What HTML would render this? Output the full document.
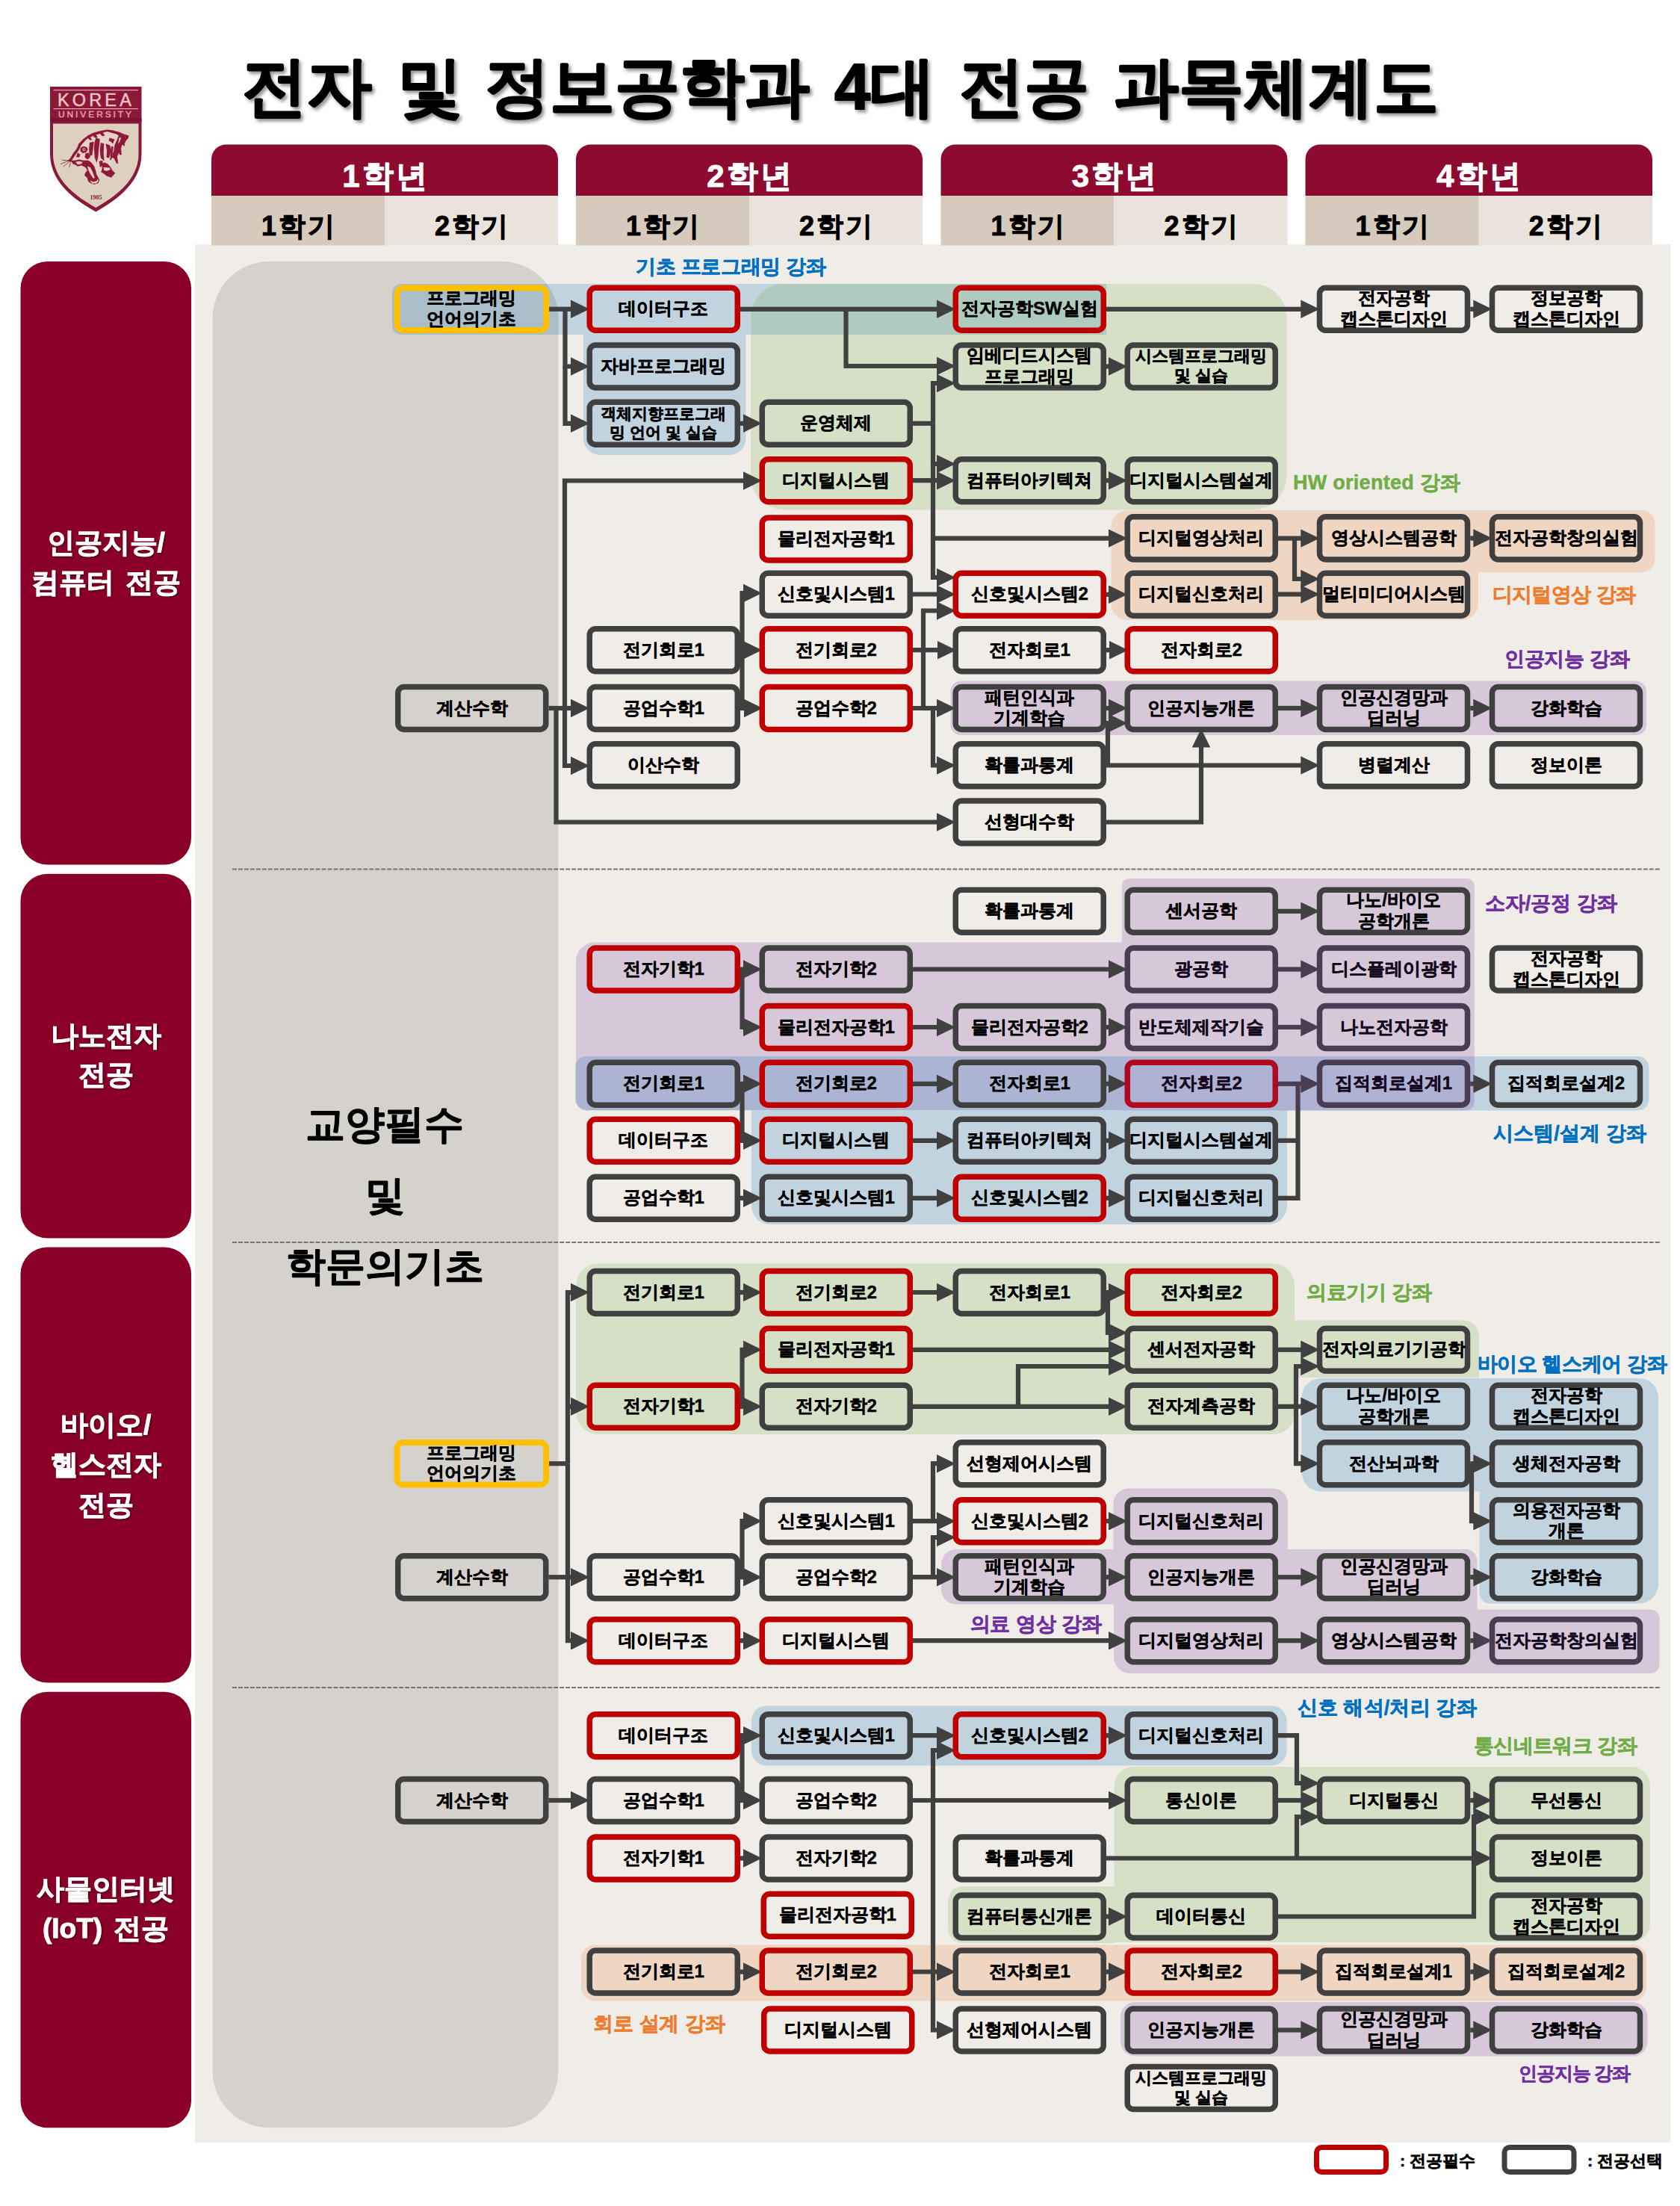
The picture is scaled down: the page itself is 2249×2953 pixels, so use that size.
<!DOCTYPE html>
<html lang="ko"><head><meta charset="utf-8"><title>전자 및 정보공학과 4대 전공 과목체계도</title>
<style>
html,body{margin:0;padding:0;background:#fff;}
body{width:2249px;height:2953px;overflow:hidden;font-family:"Liberation Sans", sans-serif;}
svg{display:block;font-family:"Liberation Sans", sans-serif;}
.bt{font-size:24px;font-weight:bold;text-anchor:middle;fill:#000;stroke:#000;stroke-width:0.45px;stroke-linejoin:round;}
</style></head><body>
<svg width="2249" height="2953" viewBox="0 0 2249 2953">
<rect width="100%" height="100%" fill="#fff"/>
<defs><filter id="ts" x="-5%" y="-20%" width="110%" height="150%"><feDropShadow dx="3" dy="3.5" stdDeviation="2.2" flood-color="#000" flood-opacity="0.42"/></filter><filter id="ws" x="-10%" y="-30%" width="120%" height="170%"><feDropShadow dx="1.5" dy="1.5" stdDeviation="1.5" flood-color="#000" flood-opacity="0.45"/></filter></defs>
<g id="logo">
<path d="M67,116 H189.5 V206 C189.5,246 152,270 128.3,283.5 C104,270 67,246 67,206 Z" fill="#8A1836"/>
<path d="M71,165.5 H185.5 V206 C185.5,243 150,265.5 128.3,278 C106,265.5 71,243 71,206 Z" fill="#DDD0BF"/>
<rect x="71.5" y="120" width="113.5" height="1.2" fill="#E9A9AE"/><rect x="71.5" y="145" width="113.5" height="1.2" fill="#E9A9AE"/>
<rect x="67" y="158" width="122.5" height="5" fill="#7A1230"/>
<text x="128.5" y="141.6" font-size="23.5" text-anchor="middle" fill="#F2C6C6" stroke="#F2C6C6" stroke-width="0.5" letter-spacing="4.2" textLength="103" lengthAdjust="spacingAndGlyphs">KOREA</text>
<text x="128.5" y="157" font-size="10.5" text-anchor="middle" fill="#EBAAB0" stroke="#EBAAB0" stroke-width="0.3" letter-spacing="2.6" textLength="101" lengthAdjust="spacingAndGlyphs">UNIVERSITY</text>
<polygon points="117.6,181.4 124.8,178.1 133.9,175.5 143.1,173.5 159.5,176.8 172.6,181.4 166.7,192.5 162.1,199.1 162.8,206.9 158.2,218.7 152.9,212.2 148.3,214.8 150.3,227.9 154.2,231.8 149.0,237.7 143.1,235.7 135.2,230.5 132.6,241.0 131.3,244.9 126.7,246.9 122.2,245.6 118.2,242.9 116.9,238.3 113.0,234.4 114.3,223.9 103.8,222.6 97.9,219.4 90.7,215.4 94.0,212.2 97.9,205.6 103.2,199.1 105.8,192.5 111.7,186.6" fill="#E8D0C6"/>
<polygon points="143.1,173.5 150.3,174.2 159.5,176.8 166.7,179.7 172.6,181.4 171.3,186.0 169.3,187.3 166.7,192.5 167.3,195.8 163.4,193.8 162.1,199.1 162.8,206.9 160.1,207.6 159.5,204.3 156.9,209.5 158.2,218.7 155.9,218.7 152.9,212.2 150.3,210.8 148.3,214.8 147.0,213.5 152.3,201.7 153.6,193.8 156.9,186.6 158.8,181.4 155.6,179.4 148.3,177.4 143.1,176.1" fill="#8E1A37"/>
<polygon points="116.9,181.7 124.8,177.8 133.9,175.2 143.1,173.4 143.1,176.3 137.9,177.4 140.5,181.4 136.6,182.2 133.9,179.1 128.7,180.4 130.7,184.0 126.7,184.6 124.8,181.7 120.8,184.0 123.5,187.3 120.2,187.6 117.6,184.6" fill="#8E1A37"/>
<polygon points="117.6,181.4 120.2,182.7 114.3,187.9 109.1,193.8 105.8,200.4 101.2,206.9 97.3,212.8 94.6,216.7 90.1,215.8 94.0,211.8 97.9,205.3 102.8,198.7 105.5,192.2 111.3,186.3" fill="#8E1A37"/>
<polygon points="128.4,184.3 133.6,186.3 133.3,191.2 132.0,201.7 131.3,210.8 129.4,218.0 126.7,210.8 125.8,197.7 126.7,189.9" fill="#8E1A37"/>
<polygon points="134.9,190.9 139.2,192.2 138.7,204.3 139.5,215.4 134.9,211.5 133.6,201.7" fill="#8E1A37"/>
<polygon points="141.5,192.2 147.4,194.8 148.3,201.7 146.1,211.5 142.5,210.8 143.1,201.7" fill="#8E1A37"/>
<polygon points="119.9,190.9 125.8,189.4 124.8,197.7 123.5,207.6 119.5,209.2 119.2,199.1" fill="#8E1A37"/>
<polygon points="114.3,205.6 118.2,204.3 120.8,210.8 116.9,213.5 113.6,210.8" fill="#8E1A37"/>
<polygon points="103.8,204.3 107.7,206.9 105.8,210.8 101.9,210.2" fill="#8E1A37"/>
<polygon points="149.0,195.8 151.9,196.4 150.3,206.9 147.7,212.2 147.4,204.3" fill="#8E1A37"/>
<polygon points="146.4,184.6 153.6,186.6 151.0,192.5 149.0,189.9 145.7,188.6" fill="#8E1A37"/>
<polygon points="107.7,197.7 111.7,195.8 116.3,197.1 117.6,200.4 114.9,204.3 110.4,204.9 107.7,202.3" fill="#8E1A37"/>
<polygon points="94.0,214.8 99.9,214.8 105.8,213.5 111.7,214.8 118.2,214.8 122.2,217.4 126.1,222.6 128.0,227.9 129.4,233.8 131.3,237.0 133.3,241.0 131.6,245.0 126.7,247.0 122.2,245.7 118.2,243.1 116.9,238.5 113.0,234.5 114.3,231.1 116.9,227.9 114.3,223.9 109.1,221.5 103.8,222.8 101.2,220.8 97.9,219.5" fill="#8E1A37"/>
<polygon points="136.6,218.7 140.5,217.4 144.4,219.4 148.3,223.9 150.3,227.9 154.2,231.8 149.0,237.7 143.1,235.7 137.9,231.8 135.2,230.5 136.6,225.9" fill="#8E1A37"/>
<polygon points="132.6,216.1 137.2,214.8 137.9,221.3 133.9,223.9" fill="#8E1A37"/>
<polygon points="110.4,199.1 112.7,198.1 114.6,199.4 113.6,201.7 111.0,202.0" fill="#E8D0C6"/>
<polygon points="116.9,222.6 120.8,223.9 123.6,229.2 125.6,234.4 126.9,238.3 124.9,239.0 121.0,233.1 118.4,227.9" fill="#E8D0C6"/>
<polygon points="120.2,241.5 124.8,243.5 129.4,242.3 131.2,239.3 131.8,242.4 128.7,245.4 123.6,245.8" fill="#E8D0C6"/>
<polygon points="138.5,223.9 147.0,224.6 147.7,227.2 143.1,228.7 139.2,228.0" fill="#E8D0C6"/>
<polygon points="101.2,216.7 105.8,215.8 110.4,216.7 109.1,219.4 103.8,220.3" fill="#E8D0C6"/>
<polygon points="159.5,184.6 162.1,184.0 160.1,189.9 158.2,192.5" fill="#E8D0C6"/>
<polygon points="111.3,199.4 113.3,199.1 113.5,200.9 111.7,201.1" fill="#8E1A37"/>
<path d="M91.4,215.4 L80.9,219.7 M92.0,214.8 L83.2,214.4 M92.7,216.7 L84.8,223.0 M94.6,217.4 L92.4,224.3" stroke="#8E1A37" stroke-width="0.8" fill="none"/>
<text x="128.5" y="266.5" font-size="8" text-anchor="middle" fill="#8A1836" font-family="'Liberation Serif', serif" font-weight="bold">1905</text>
</g>
<g filter="url(#ts)" font-size="86.5" font-weight="bold" fill="#000" stroke="#000" stroke-width="2" stroke-linejoin="round">
<text x="324" y="146">전자</text>
<text x="532" y="146">및</text>
<text x="648.5" y="146">정보공학과</text>
<text x="1117" y="146">4대</text>
<text x="1283.5" y="146">전공</text>
<text x="1491" y="146">과목체계도</text>
</g>
<rect x="261" y="327.2" width="1975.5" height="2541.1" fill="#F0EDE8"/>
<path d="M283,262 V213 A19.5,19.5 0 0 1 302.5,193.5 H727.5 A19.5,19.5 0 0 1 747,213 V262 Z" fill="#8D0A30"/>
<rect x="283" y="262" width="232.0" height="66.5" fill="#D6CABC"/><rect x="515.0" y="262" width="232.0" height="66.5" fill="#E9E3DC"/>
<text x="516.5" y="249.5" font-size="42" font-weight="bold" fill="#fff" stroke="#fff" stroke-width="0.9" text-anchor="middle" letter-spacing="3">1학년</text>
<text x="400.5" y="314.5" font-size="36" font-weight="bold" fill="#000" stroke="#000" stroke-width="0.9" text-anchor="middle" letter-spacing="3">1학기</text>
<text x="632.5" y="314.5" font-size="36" font-weight="bold" fill="#000" stroke="#000" stroke-width="0.9" text-anchor="middle" letter-spacing="3">2학기</text>
<path d="M771,262 V213 A19.5,19.5 0 0 1 790.5,193.5 H1215.5 A19.5,19.5 0 0 1 1235,213 V262 Z" fill="#8D0A30"/>
<rect x="771" y="262" width="232.0" height="66.5" fill="#D6CABC"/><rect x="1003.0" y="262" width="232.0" height="66.5" fill="#E9E3DC"/>
<text x="1004.5" y="249.5" font-size="42" font-weight="bold" fill="#fff" stroke="#fff" stroke-width="0.9" text-anchor="middle" letter-spacing="3">2학년</text>
<text x="888.5" y="314.5" font-size="36" font-weight="bold" fill="#000" stroke="#000" stroke-width="0.9" text-anchor="middle" letter-spacing="3">1학기</text>
<text x="1120.5" y="314.5" font-size="36" font-weight="bold" fill="#000" stroke="#000" stroke-width="0.9" text-anchor="middle" letter-spacing="3">2학기</text>
<path d="M1259.5,262 V213 A19.5,19.5 0 0 1 1279.0,193.5 H1704.0 A19.5,19.5 0 0 1 1723.5,213 V262 Z" fill="#8D0A30"/>
<rect x="1259.5" y="262" width="232.0" height="66.5" fill="#D6CABC"/><rect x="1491.5" y="262" width="232.0" height="66.5" fill="#E9E3DC"/>
<text x="1493.0" y="249.5" font-size="42" font-weight="bold" fill="#fff" stroke="#fff" stroke-width="0.9" text-anchor="middle" letter-spacing="3">3학년</text>
<text x="1377.0" y="314.5" font-size="36" font-weight="bold" fill="#000" stroke="#000" stroke-width="0.9" text-anchor="middle" letter-spacing="3">1학기</text>
<text x="1609.0" y="314.5" font-size="36" font-weight="bold" fill="#000" stroke="#000" stroke-width="0.9" text-anchor="middle" letter-spacing="3">2학기</text>
<path d="M1747.5,262 V213 A19.5,19.5 0 0 1 1767.0,193.5 H2192.5 A19.5,19.5 0 0 1 2212,213 V262 Z" fill="#8D0A30"/>
<rect x="1747.5" y="262" width="232.25" height="66.5" fill="#D6CABC"/><rect x="1979.75" y="262" width="232.25" height="66.5" fill="#E9E3DC"/>
<text x="1981.25" y="249.5" font-size="42" font-weight="bold" fill="#fff" stroke="#fff" stroke-width="0.9" text-anchor="middle" letter-spacing="3">4학년</text>
<text x="1865.125" y="314.5" font-size="36" font-weight="bold" fill="#000" stroke="#000" stroke-width="0.9" text-anchor="middle" letter-spacing="3">1학기</text>
<text x="2097.375" y="314.5" font-size="36" font-weight="bold" fill="#000" stroke="#000" stroke-width="0.9" text-anchor="middle" letter-spacing="3">2학기</text>
<rect x="27.5" y="350" width="228.5" height="807.6" rx="36" fill="#8B0029"/>
<text x="141.7" y="739.4" font-size="37" font-weight="bold" fill="#fff" stroke="#fff" stroke-width="0.9" text-anchor="middle" word-spacing="5" filter="url(#ws)">인공지능/</text>
<text x="141.7" y="791.9" font-size="37" font-weight="bold" fill="#fff" stroke="#fff" stroke-width="0.9" text-anchor="middle" word-spacing="5" filter="url(#ws)">컴퓨터 전공</text>
<rect x="27.5" y="1169.8" width="228.5" height="487.8" rx="36" fill="#8B0029"/>
<text x="141.7" y="1398.7" font-size="37" font-weight="bold" fill="#fff" stroke="#fff" stroke-width="0.9" text-anchor="middle" word-spacing="5" filter="url(#ws)">나노전자</text>
<text x="141.7" y="1450.9" font-size="37" font-weight="bold" fill="#fff" stroke="#fff" stroke-width="0.9" text-anchor="middle" word-spacing="5" filter="url(#ws)">전공</text>
<rect x="27.5" y="1669.5" width="228.5" height="582.9" rx="36" fill="#8B0029"/>
<text x="141.7" y="1919.5" font-size="37" font-weight="bold" fill="#fff" stroke="#fff" stroke-width="0.9" text-anchor="middle" word-spacing="5" filter="url(#ws)">바이오/</text>
<text x="141.7" y="1972.9" font-size="37" font-weight="bold" fill="#fff" stroke="#fff" stroke-width="0.9" text-anchor="middle" word-spacing="5" filter="url(#ws)">헬스전자</text>
<text x="141.7" y="2026.9" font-size="37" font-weight="bold" fill="#fff" stroke="#fff" stroke-width="0.9" text-anchor="middle" word-spacing="5" filter="url(#ws)">전공</text>
<rect x="27.5" y="2264.8" width="228.5" height="583.5" rx="36" fill="#8B0029"/>
<text x="141.7" y="2540.9" font-size="37" font-weight="bold" fill="#fff" stroke="#fff" stroke-width="0.9" text-anchor="middle" word-spacing="5" filter="url(#ws)">사물인터넷</text>
<text x="141.7" y="2593.6" font-size="37" font-weight="bold" fill="#fff" stroke="#fff" stroke-width="0.9" text-anchor="middle" word-spacing="5" filter="url(#ws)">(IoT) 전공</text>
<rect x="284.5" y="350" width="463" height="2498.3" rx="76" fill="#D5D2CD"/>
<path d="M537,380 H1481 V448 H537 A12,12 0 0 1 525,436 V392 A12,12 0 0 1 537,380 Z" fill="#0070C0" fill-opacity="0.2"/>
<path d="M781,448 H998.5 V587 A22,22 0 0 1 976.5,609 H803 A22,22 0 0 1 781,587 V448 Z" fill="#0070C0" fill-opacity="0.2"/>
<path d="M1050,380 H1677.5 A45,45 0 0 1 1722.5,425 V637.5 A45,45 0 0 1 1677.5,682.5 H1050 A45,45 0 0 1 1005,637.5 V425 A45,45 0 0 1 1050,380 Z" fill="#70AD47" fill-opacity="0.2"/>
<path d="M1509.5,683 H1979 V808 A22,22 0 0 1 1957,830 H1509.5 A22,22 0 0 1 1487.5,808 V705 A22,22 0 0 1 1509.5,683 Z" fill="#ED7D31" fill-opacity="0.2"/>
<path d="M1979,683 H2197.5 A18,18 0 0 1 2215.5,701 V748 A18,18 0 0 1 2197.5,766 H1979 V683 Z" fill="#ED7D31" fill-opacity="0.2"/>
<path d="M1286.5,911.5 H2190 A14,14 0 0 1 2204,925.5 V970 A14,14 0 0 1 2190,984 H1286.5 A14,14 0 0 1 1272.5,970 V925.5 A14,14 0 0 1 1286.5,911.5 Z" fill="#7030A0" fill-opacity="0.2"/>
<path d="M1511.7,1176 H1963.8 A10,10 0 0 1 1973.8,1186 V1256 H1501.7 V1186 A10,10 0 0 1 1511.7,1176 Z" fill="#7030A0" fill-opacity="0.2"/>
<path d="M796,1261.5 H1501.7 V1486 H786 A15,15 0 0 1 771,1471 V1286.5 A25,25 0 0 1 796,1261.5 Z" fill="#7030A0" fill-opacity="0.2"/>
<path d="M785,1414 H2192.5 A15,15 0 0 1 2207.5,1429 V1471.5 A15,15 0 0 1 2192.5,1486.5 H785 A15,15 0 0 1 770,1471.5 V1429 A15,15 0 0 1 785,1414 Z" fill="#0070C0" fill-opacity="0.2"/>
<path d="M1006,1486.5 H1723 V1614 A25,25 0 0 1 1698,1639 H1031 A25,25 0 0 1 1006,1614 V1486.5 Z" fill="#0070C0" fill-opacity="0.2"/>
<path d="M801,1691.5 H1705 A28,28 0 0 1 1733,1719.5 V1892 A28,28 0 0 1 1705,1920 H801 A30,30 0 0 1 771,1890 V1721.5 A30,30 0 0 1 801,1691.5 Z" fill="#70AD47" fill-opacity="0.2"/>
<path d="M1733,1767.5 H1960 A20,20 0 0 1 1980,1787.5 V1844 H1733 V1767.5 Z" fill="#70AD47" fill-opacity="0.2"/>
<path d="M1768.5,1845 H1980.5 V1996.5 H1768.5 A26,26 0 0 1 1742.5,1970.5 V1871 A26,26 0 0 1 1768.5,1845 Z" fill="#0070C0" fill-opacity="0.2"/>
<path d="M1980.5,1845 H2194 A26,26 0 0 1 2220,1871 V2120.5 A26,26 0 0 1 2194,2146.5 H1994.5 A14,14 0 0 1 1980.5,2132.5 V1845 Z" fill="#0070C0" fill-opacity="0.2"/>
<path d="M1510.5,1992.5 H1704 A20,20 0 0 1 1724,2012.5 V2074 H1490.5 V2012.5 A20,20 0 0 1 1510.5,1992.5 Z" fill="#7030A0" fill-opacity="0.2"/>
<path d="M1280,2074 H1962.5 A15,15 0 0 1 1977.5,2089 V2147.5 H1280 A20,20 0 0 1 1260,2127.5 V2094 A20,20 0 0 1 1280,2074 Z" fill="#7030A0" fill-opacity="0.2"/>
<path d="M1491,2147.5 H1977.5 V2240 H1513 A22,22 0 0 1 1491,2218 V2147.5 Z" fill="#7030A0" fill-opacity="0.2"/>
<path d="M1026,2283.5 H1702.5 A20,20 0 0 1 1722.5,2303.5 V2343.5 A20,20 0 0 1 1702.5,2363.5 H1026 A20,20 0 0 1 1006,2343.5 V2303.5 A20,20 0 0 1 1026,2283.5 Z" fill="#0070C0" fill-opacity="0.2"/>
<path d="M1516.5,2365 H2184 A25,25 0 0 1 2209,2390 V2575 A25,25 0 0 1 2184,2600 H1491.5 V2390 A25,25 0 0 1 1516.5,2365 Z" fill="#70AD47" fill-opacity="0.2"/>
<path d="M1289,2525 H1491.5 V2601 H1289 A20,20 0 0 1 1269,2581 V2545 A20,20 0 0 1 1289,2525 Z" fill="#70AD47" fill-opacity="0.2"/>
<path d="M796,2603.5 H2186 A18,18 0 0 1 2204,2621.5 V2660.5 A18,18 0 0 1 2186,2678.5 H796 A18,18 0 0 1 778,2660.5 V2621.5 A18,18 0 0 1 796,2603.5 Z" fill="#ED7D31" fill-opacity="0.2"/>
<path d="M1520,2680 H2185.5 A20,20 0 0 1 2205.5,2700 V2732.5 A20,20 0 0 1 2185.5,2752.5 H1520 A20,20 0 0 1 1500,2732.5 V2700 A20,20 0 0 1 1520,2680 Z" fill="#7030A0" fill-opacity="0.2"/>
<line x1="311" y1="1163.5" x2="2222" y2="1163.5" stroke="#767470" stroke-width="2.1" stroke-dasharray="5.9 2.07"/>
<line x1="311" y1="1663" x2="2222" y2="1663" stroke="#767470" stroke-width="2.1" stroke-dasharray="5.9 2.07"/>
<line x1="311" y1="2259" x2="2222" y2="2259" stroke="#767470" stroke-width="2.1" stroke-dasharray="5.9 2.07"/>
<polyline points="734.5,413.8 765.0,413.8" fill="none" stroke="#404040" stroke-width="6.2" stroke-linejoin="miter"/><polygon points="789.2,413.8 764.0,425.9 764.0,401.6" fill="#404040"/>
<polyline points="756.5,413.8 756.5,490.5 765.0,490.5" fill="none" stroke="#404040" stroke-width="6.2" stroke-linejoin="miter"/><polygon points="789.2,490.5 764.0,502.7 764.0,478.3" fill="#404040"/>
<polyline points="756.5,490.5 756.5,566.8 765.0,566.8" fill="none" stroke="#404040" stroke-width="6.2" stroke-linejoin="miter"/><polygon points="789.2,566.8 764.0,579.0 764.0,554.5" fill="#404040"/>
<polyline points="991.0,566.8 996.0,566.8" fill="none" stroke="#404040" stroke-width="6.2" stroke-linejoin="miter"/><polygon points="1020.2,566.8 995.0,579.0 995.0,554.5" fill="#404040"/>
<polyline points="991.0,413.8 1255.0,413.8" fill="none" stroke="#404040" stroke-width="6.2" stroke-linejoin="miter"/><polygon points="1279.2,413.8 1254.0,425.9 1254.0,401.6" fill="#404040"/>
<polyline points="1132.5,413.8 1132.5,490.0 1255.0,490.0" fill="none" stroke="#404040" stroke-width="6.2" stroke-linejoin="miter"/><polygon points="1279.2,490.0 1254.0,502.2 1254.0,477.8" fill="#404040"/>
<polyline points="1222.0,566.8 1249.0,566.8" fill="none" stroke="#404040" stroke-width="6.2" stroke-linejoin="miter"/>
<polyline points="1249.0,566.8 1249.0,513.0 1255.0,513.0" fill="none" stroke="#404040" stroke-width="6.2" stroke-linejoin="miter"/><polygon points="1279.2,513.0 1254.0,525.2 1254.0,500.8" fill="#404040"/>
<polyline points="1249.0,566.8 1249.0,621.0 1255.0,621.0" fill="none" stroke="#404040" stroke-width="6.2" stroke-linejoin="miter"/><polygon points="1279.2,621.0 1254.0,633.2 1254.0,608.8" fill="#404040"/>
<polyline points="1222.0,643.2 1255.0,643.2" fill="none" stroke="#404040" stroke-width="6.2" stroke-linejoin="miter"/><polygon points="1279.2,643.2 1254.0,655.5 1254.0,631.0" fill="#404040"/>
<polyline points="1249.0,621.0 1249.0,720.6 1485.0,720.6" fill="none" stroke="#404040" stroke-width="6.2" stroke-linejoin="miter"/><polygon points="1509.2,720.6 1484.0,732.8 1484.0,708.4" fill="#404040"/>
<polyline points="1249.0,720.0 1249.0,773.0 1255.0,773.0" fill="none" stroke="#404040" stroke-width="6.2" stroke-linejoin="miter"/><polygon points="1279.2,773.0 1254.0,785.2 1254.0,760.8" fill="#404040"/>
<polyline points="734.5,948.0 765.0,948.0" fill="none" stroke="#404040" stroke-width="6.2" stroke-linejoin="miter"/><polygon points="789.2,948.0 764.0,960.2 764.0,935.8" fill="#404040"/>
<polyline points="756.0,948.0 756.0,643.5 996.0,643.5" fill="none" stroke="#404040" stroke-width="6.2" stroke-linejoin="miter"/><polygon points="1020.2,643.5 995.0,655.7 995.0,631.3" fill="#404040"/>
<polyline points="756.0,948.0 756.0,1025.0 765.0,1025.0" fill="none" stroke="#404040" stroke-width="6.2" stroke-linejoin="miter"/><polygon points="789.2,1025.0 764.0,1037.2 764.0,1012.8" fill="#404040"/>
<polyline points="744.5,948.0 744.5,1100.5 1255.0,1100.5" fill="none" stroke="#404040" stroke-width="6.2" stroke-linejoin="miter"/><polygon points="1279.2,1100.5 1254.0,1112.7 1254.0,1088.3" fill="#404040"/>
<polyline points="990.0,870.2 996.0,870.2" fill="none" stroke="#404040" stroke-width="6.2" stroke-linejoin="miter"/><polygon points="1020.2,870.2 995.0,882.5 995.0,858.0" fill="#404040"/>
<polyline points="990.0,948.0 997.0,948.0" fill="none" stroke="#404040" stroke-width="6.2" stroke-linejoin="miter"/><polygon points="1021.2,948.0 996.0,960.2 996.0,935.8" fill="#404040"/>
<polyline points="993.5,948.0 993.5,794.0 996.0,794.0" fill="none" stroke="#404040" stroke-width="6.2" stroke-linejoin="miter"/><polygon points="1020.2,794.0 995.0,806.2 995.0,781.8" fill="#404040"/>
<polyline points="1222.0,795.5 1255.0,795.5" fill="none" stroke="#404040" stroke-width="6.2" stroke-linejoin="miter"/><polygon points="1279.2,795.5 1254.0,807.7 1254.0,783.3" fill="#404040"/>
<polyline points="1222.0,948.0 1236.0,948.0 1236.0,817.5 1255.0,817.5" fill="none" stroke="#404040" stroke-width="6.2" stroke-linejoin="miter"/><polygon points="1279.2,817.5 1254.0,829.7 1254.0,805.3" fill="#404040"/>
<polyline points="1222.0,870.2 1256.0,870.2" fill="none" stroke="#404040" stroke-width="6.2" stroke-linejoin="miter"/><polygon points="1280.2,870.2 1255.0,882.5 1255.0,858.0" fill="#404040"/>
<polyline points="1236.0,948.0 1255.0,948.0" fill="none" stroke="#404040" stroke-width="6.2" stroke-linejoin="miter"/><polygon points="1279.2,948.0 1254.0,960.2 1254.0,935.8" fill="#404040"/>
<polyline points="1249.0,948.0 1249.0,1024.5 1255.0,1024.5" fill="none" stroke="#404040" stroke-width="6.2" stroke-linejoin="miter"/><polygon points="1279.2,1024.5 1254.0,1036.7 1254.0,1012.3" fill="#404040"/>
<polyline points="1481.0,490.5 1485.0,490.5" fill="none" stroke="#404040" stroke-width="6.2" stroke-linejoin="miter"/><polygon points="1509.2,490.5 1484.0,502.7 1484.0,478.3" fill="#404040"/>
<polyline points="1481.0,643.2 1485.0,643.2" fill="none" stroke="#404040" stroke-width="6.2" stroke-linejoin="miter"/><polygon points="1509.2,643.2 1484.0,655.5 1484.0,631.0" fill="#404040"/>
<polyline points="1481.0,795.8 1485.0,795.8" fill="none" stroke="#404040" stroke-width="6.2" stroke-linejoin="miter"/><polygon points="1509.2,795.8 1484.0,808.0 1484.0,783.5" fill="#404040"/>
<polyline points="1481.0,870.2 1486.0,870.2" fill="none" stroke="#404040" stroke-width="6.2" stroke-linejoin="miter"/><polygon points="1510.2,870.2 1485.0,882.5 1485.0,858.0" fill="#404040"/>
<polyline points="1481.0,948.0 1485.0,948.0" fill="none" stroke="#404040" stroke-width="6.2" stroke-linejoin="miter"/><polygon points="1509.2,948.0 1484.0,960.2 1484.0,935.8" fill="#404040"/>
<polyline points="1481.0,1024.5 1742.3,1024.5" fill="none" stroke="#404040" stroke-width="6.2" stroke-linejoin="miter"/><polygon points="1766.5,1024.5 1741.3,1036.7 1741.3,1012.3" fill="#404040"/>
<polyline points="1483.0,1024.5 1483.0,968.0 1485.0,968.0" fill="none" stroke="#404040" stroke-width="6.2" stroke-linejoin="miter"/><polygon points="1509.2,968.0 1484.0,980.2 1484.0,955.8" fill="#404040"/>
<polyline points="1481.0,1100.5 1608.0,1100.5 1608.0,999.5" fill="none" stroke="#404040" stroke-width="6.2" stroke-linejoin="miter"/><polygon points="1608.0,975.2 1620.2,1000.5 1595.8,1000.5" fill="#404040"/>
<polyline points="1481.0,413.8 1742.3,413.8" fill="none" stroke="#404040" stroke-width="6.2" stroke-linejoin="miter"/><polygon points="1766.5,413.8 1741.3,425.9 1741.3,401.6" fill="#404040"/>
<polyline points="1968.2,413.8 1973.3,413.8" fill="none" stroke="#404040" stroke-width="6.2" stroke-linejoin="miter"/><polygon points="1997.5,413.8 1972.3,425.9 1972.3,401.6" fill="#404040"/>
<polyline points="1711.0,720.6 1742.3,720.6" fill="none" stroke="#404040" stroke-width="6.2" stroke-linejoin="miter"/><polygon points="1766.5,720.6 1741.3,732.8 1741.3,708.4" fill="#404040"/>
<polyline points="1733.0,720.6 1733.0,775.0 1742.3,775.0" fill="none" stroke="#404040" stroke-width="6.2" stroke-linejoin="miter"/><polygon points="1766.5,775.0 1741.3,787.2 1741.3,762.8" fill="#404040"/>
<polyline points="1711.0,795.5 1742.3,795.5" fill="none" stroke="#404040" stroke-width="6.2" stroke-linejoin="miter"/><polygon points="1766.5,795.5 1741.3,807.7 1741.3,783.3" fill="#404040"/>
<polyline points="1968.2,720.5 1973.3,720.5" fill="none" stroke="#404040" stroke-width="6.2" stroke-linejoin="miter"/><polygon points="1997.5,720.5 1972.3,732.7 1972.3,708.3" fill="#404040"/>
<polyline points="1711.0,948.0 1742.3,948.0" fill="none" stroke="#404040" stroke-width="6.2" stroke-linejoin="miter"/><polygon points="1766.5,948.0 1741.3,960.2 1741.3,935.8" fill="#404040"/>
<polyline points="1968.2,948.0 1973.3,948.0" fill="none" stroke="#404040" stroke-width="6.2" stroke-linejoin="miter"/><polygon points="1997.5,948.0 1972.3,960.2 1972.3,935.8" fill="#404040"/>
<polyline points="1711.0,1219.8 1742.3,1219.8" fill="none" stroke="#404040" stroke-width="6.2" stroke-linejoin="miter"/><polygon points="1766.5,1219.8 1741.3,1232.0 1741.3,1207.5" fill="#404040"/>
<polyline points="990.0,1297.5 996.0,1297.5" fill="none" stroke="#404040" stroke-width="6.2" stroke-linejoin="miter"/><polygon points="1020.2,1297.5 995.0,1309.7 995.0,1285.3" fill="#404040"/>
<polyline points="993.5,1297.5 993.5,1375.0 996.0,1375.0" fill="none" stroke="#404040" stroke-width="6.2" stroke-linejoin="miter"/><polygon points="1020.2,1375.0 995.0,1387.2 995.0,1362.8" fill="#404040"/>
<polyline points="1222.0,1297.5 1485.0,1297.5" fill="none" stroke="#404040" stroke-width="6.2" stroke-linejoin="miter"/><polygon points="1509.2,1297.5 1484.0,1309.7 1484.0,1285.3" fill="#404040"/>
<polyline points="1711.0,1297.5 1742.3,1297.5" fill="none" stroke="#404040" stroke-width="6.2" stroke-linejoin="miter"/><polygon points="1766.5,1297.5 1741.3,1309.7 1741.3,1285.3" fill="#404040"/>
<polyline points="1222.0,1375.0 1255.0,1375.0" fill="none" stroke="#404040" stroke-width="6.2" stroke-linejoin="miter"/><polygon points="1279.2,1375.0 1254.0,1387.2 1254.0,1362.8" fill="#404040"/>
<polyline points="1481.0,1375.0 1485.0,1375.0" fill="none" stroke="#404040" stroke-width="6.2" stroke-linejoin="miter"/><polygon points="1509.2,1375.0 1484.0,1387.2 1484.0,1362.8" fill="#404040"/>
<polyline points="1711.0,1375.0 1742.3,1375.0" fill="none" stroke="#404040" stroke-width="6.2" stroke-linejoin="miter"/><polygon points="1766.5,1375.0 1741.3,1387.2 1741.3,1362.8" fill="#404040"/>
<polyline points="990.0,1450.8 996.0,1450.8" fill="none" stroke="#404040" stroke-width="6.2" stroke-linejoin="miter"/><polygon points="1020.2,1450.8 995.0,1463.0 995.0,1438.5" fill="#404040"/>
<polyline points="993.5,1450.8 993.5,1526.8 996.0,1526.8" fill="none" stroke="#404040" stroke-width="6.2" stroke-linejoin="miter"/><polygon points="1020.2,1526.8 995.0,1539.0 995.0,1514.5" fill="#404040"/>
<polyline points="1222.0,1450.8 1255.0,1450.8" fill="none" stroke="#404040" stroke-width="6.2" stroke-linejoin="miter"/><polygon points="1279.2,1450.8 1254.0,1463.0 1254.0,1438.5" fill="#404040"/>
<polyline points="1481.0,1450.8 1485.0,1450.8" fill="none" stroke="#404040" stroke-width="6.2" stroke-linejoin="miter"/><polygon points="1509.2,1450.8 1484.0,1463.0 1484.0,1438.5" fill="#404040"/>
<polyline points="1711.0,1450.8 1742.3,1450.8" fill="none" stroke="#404040" stroke-width="6.2" stroke-linejoin="miter"/><polygon points="1766.5,1450.8 1741.3,1463.0 1741.3,1438.5" fill="#404040"/>
<polyline points="1968.2,1450.8 1973.3,1450.8" fill="none" stroke="#404040" stroke-width="6.2" stroke-linejoin="miter"/><polygon points="1997.5,1450.8 1972.3,1463.0 1972.3,1438.5" fill="#404040"/>
<polyline points="1222.0,1526.8 1255.0,1526.8" fill="none" stroke="#404040" stroke-width="6.2" stroke-linejoin="miter"/><polygon points="1279.2,1526.8 1254.0,1539.0 1254.0,1514.5" fill="#404040"/>
<polyline points="1481.0,1526.8 1485.0,1526.8" fill="none" stroke="#404040" stroke-width="6.2" stroke-linejoin="miter"/><polygon points="1509.2,1526.8 1484.0,1539.0 1484.0,1514.5" fill="#404040"/>
<polyline points="990.0,1603.8 996.0,1603.8" fill="none" stroke="#404040" stroke-width="6.2" stroke-linejoin="miter"/><polygon points="1020.2,1603.8 995.0,1616.0 995.0,1591.5" fill="#404040"/>
<polyline points="1222.0,1603.8 1255.0,1603.8" fill="none" stroke="#404040" stroke-width="6.2" stroke-linejoin="miter"/><polygon points="1279.2,1603.8 1254.0,1616.0 1254.0,1591.5" fill="#404040"/>
<polyline points="1481.0,1603.8 1485.0,1603.8" fill="none" stroke="#404040" stroke-width="6.2" stroke-linejoin="miter"/><polygon points="1509.2,1603.8 1484.0,1616.0 1484.0,1591.5" fill="#404040"/>
<polyline points="1711.0,1526.8 1737.5,1526.8" fill="none" stroke="#404040" stroke-width="6.2" stroke-linejoin="miter"/>
<polyline points="1711.0,1603.8 1737.5,1603.8 1737.5,1450.8" fill="none" stroke="#404040" stroke-width="6.2" stroke-linejoin="miter"/>
<polyline points="734.5,1959.2 760.0,1959.2" fill="none" stroke="#404040" stroke-width="6.2" stroke-linejoin="miter"/>
<polyline points="760.0,1959.2 760.0,1730.0 765.0,1730.0" fill="none" stroke="#404040" stroke-width="6.2" stroke-linejoin="miter"/><polygon points="789.2,1730.0 764.0,1742.2 764.0,1717.8" fill="#404040"/>
<polyline points="760.0,1882.8 765.0,1882.8" fill="none" stroke="#404040" stroke-width="6.2" stroke-linejoin="miter"/><polygon points="789.2,1882.8 764.0,1895.0 764.0,1870.5" fill="#404040"/>
<polyline points="760.0,1959.2 760.0,2196.2 765.0,2196.2" fill="none" stroke="#404040" stroke-width="6.2" stroke-linejoin="miter"/><polygon points="789.2,2196.2 764.0,2208.4 764.0,2184.1" fill="#404040"/>
<polyline points="734.5,2111.2 765.0,2111.2" fill="none" stroke="#404040" stroke-width="6.2" stroke-linejoin="miter"/><polygon points="789.2,2111.2 764.0,2123.4 764.0,2099.1" fill="#404040"/>
<polyline points="990.0,1730.0 996.0,1730.0" fill="none" stroke="#404040" stroke-width="6.2" stroke-linejoin="miter"/><polygon points="1020.2,1730.0 995.0,1742.2 995.0,1717.8" fill="#404040"/>
<polyline points="990.0,1882.8 996.0,1882.8" fill="none" stroke="#404040" stroke-width="6.2" stroke-linejoin="miter"/><polygon points="1020.2,1882.8 995.0,1895.0 995.0,1870.5" fill="#404040"/>
<polyline points="993.5,1882.8 993.5,1806.8 996.0,1806.8" fill="none" stroke="#404040" stroke-width="6.2" stroke-linejoin="miter"/><polygon points="1020.2,1806.8 995.0,1819.0 995.0,1794.5" fill="#404040"/>
<polyline points="990.0,2111.2 996.0,2111.2" fill="none" stroke="#404040" stroke-width="6.2" stroke-linejoin="miter"/><polygon points="1020.2,2111.2 995.0,2123.4 995.0,2099.1" fill="#404040"/>
<polyline points="993.5,2111.2 993.5,2036.2 996.0,2036.2" fill="none" stroke="#404040" stroke-width="6.2" stroke-linejoin="miter"/><polygon points="1020.2,2036.2 995.0,2048.4 995.0,2024.0" fill="#404040"/>
<polyline points="990.0,2196.2 996.0,2196.2" fill="none" stroke="#404040" stroke-width="6.2" stroke-linejoin="miter"/><polygon points="1020.2,2196.2 995.0,2208.4 995.0,2184.1" fill="#404040"/>
<polyline points="1222.0,1730.0 1255.0,1730.0" fill="none" stroke="#404040" stroke-width="6.2" stroke-linejoin="miter"/><polygon points="1279.2,1730.0 1254.0,1742.2 1254.0,1717.8" fill="#404040"/>
<polyline points="1481.0,1730.0 1485.0,1730.0" fill="none" stroke="#404040" stroke-width="6.2" stroke-linejoin="miter"/><polygon points="1509.2,1730.0 1484.0,1742.2 1484.0,1717.8" fill="#404040"/>
<polyline points="1483.0,1730.0 1483.0,1784.0 1485.0,1784.0" fill="none" stroke="#404040" stroke-width="6.2" stroke-linejoin="miter"/><polygon points="1509.2,1784.0 1484.0,1796.2 1484.0,1771.8" fill="#404040"/>
<polyline points="1222.0,1806.8 1485.0,1806.8" fill="none" stroke="#404040" stroke-width="6.2" stroke-linejoin="miter"/><polygon points="1509.2,1806.8 1484.0,1819.0 1484.0,1794.5" fill="#404040"/>
<polyline points="1222.0,1882.8 1485.0,1882.8" fill="none" stroke="#404040" stroke-width="6.2" stroke-linejoin="miter"/><polygon points="1509.2,1882.8 1484.0,1895.0 1484.0,1870.5" fill="#404040"/>
<polyline points="1363.0,1882.8 1363.0,1829.0 1485.0,1829.0" fill="none" stroke="#404040" stroke-width="6.2" stroke-linejoin="miter"/><polygon points="1509.2,1829.0 1484.0,1841.2 1484.0,1816.8" fill="#404040"/>
<polyline points="1222.0,2036.2 1255.0,2036.2" fill="none" stroke="#404040" stroke-width="6.2" stroke-linejoin="miter"/><polygon points="1279.2,2036.2 1254.0,2048.4 1254.0,2024.0" fill="#404040"/>
<polyline points="1249.0,2036.2 1249.0,1959.2 1255.0,1959.2" fill="none" stroke="#404040" stroke-width="6.2" stroke-linejoin="miter"/><polygon points="1279.2,1959.2 1254.0,1971.5 1254.0,1947.0" fill="#404040"/>
<polyline points="1222.0,2111.2 1255.0,2111.2" fill="none" stroke="#404040" stroke-width="6.2" stroke-linejoin="miter"/><polygon points="1279.2,2111.2 1254.0,2123.4 1254.0,2099.1" fill="#404040"/>
<polyline points="1249.0,2111.2 1249.0,2058.0 1255.0,2058.0" fill="none" stroke="#404040" stroke-width="6.2" stroke-linejoin="miter"/><polygon points="1279.2,2058.0 1254.0,2070.2 1254.0,2045.8" fill="#404040"/>
<polyline points="1481.0,2036.2 1485.0,2036.2" fill="none" stroke="#404040" stroke-width="6.2" stroke-linejoin="miter"/><polygon points="1509.2,2036.2 1484.0,2048.4 1484.0,2024.0" fill="#404040"/>
<polyline points="1481.0,2111.2 1485.0,2111.2" fill="none" stroke="#404040" stroke-width="6.2" stroke-linejoin="miter"/><polygon points="1509.2,2111.2 1484.0,2123.4 1484.0,2099.1" fill="#404040"/>
<polyline points="1222.0,2196.2 1485.0,2196.2" fill="none" stroke="#404040" stroke-width="6.2" stroke-linejoin="miter"/><polygon points="1509.2,2196.2 1484.0,2208.4 1484.0,2184.1" fill="#404040"/>
<polyline points="1711.0,1806.8 1742.3,1806.8" fill="none" stroke="#404040" stroke-width="6.2" stroke-linejoin="miter"/><polygon points="1766.5,1806.8 1741.3,1819.0 1741.3,1794.5" fill="#404040"/>
<polyline points="1711.0,1882.8 1742.3,1882.8" fill="none" stroke="#404040" stroke-width="6.2" stroke-linejoin="miter"/><polygon points="1766.5,1882.8 1741.3,1895.0 1741.3,1870.5" fill="#404040"/>
<polyline points="1735.0,1882.8 1735.0,1829.0 1742.3,1829.0" fill="none" stroke="#404040" stroke-width="6.2" stroke-linejoin="miter"/><polygon points="1766.5,1829.0 1741.3,1841.2 1741.3,1816.8" fill="#404040"/>
<polyline points="1735.0,1882.8 1735.0,1959.2 1742.3,1959.2" fill="none" stroke="#404040" stroke-width="6.2" stroke-linejoin="miter"/><polygon points="1766.5,1959.2 1741.3,1971.5 1741.3,1947.0" fill="#404040"/>
<polyline points="1968.2,1959.2 1973.3,1959.2" fill="none" stroke="#404040" stroke-width="6.2" stroke-linejoin="miter"/><polygon points="1997.5,1959.2 1972.3,1971.5 1972.3,1947.0" fill="#404040"/>
<polyline points="1970.0,1959.2 1970.0,2036.2 1973.3,2036.2" fill="none" stroke="#404040" stroke-width="6.2" stroke-linejoin="miter"/><polygon points="1997.5,2036.2 1972.3,2048.4 1972.3,2024.0" fill="#404040"/>
<polyline points="1711.0,2111.2 1742.3,2111.2" fill="none" stroke="#404040" stroke-width="6.2" stroke-linejoin="miter"/><polygon points="1766.5,2111.2 1741.3,2123.4 1741.3,2099.1" fill="#404040"/>
<polyline points="1968.2,2111.2 1973.3,2111.2" fill="none" stroke="#404040" stroke-width="6.2" stroke-linejoin="miter"/><polygon points="1997.5,2111.2 1972.3,2123.4 1972.3,2099.1" fill="#404040"/>
<polyline points="1711.0,2196.2 1742.3,2196.2" fill="none" stroke="#404040" stroke-width="6.2" stroke-linejoin="miter"/><polygon points="1766.5,2196.2 1741.3,2208.4 1741.3,2184.1" fill="#404040"/>
<polyline points="1968.2,2196.2 1973.3,2196.2" fill="none" stroke="#404040" stroke-width="6.2" stroke-linejoin="miter"/><polygon points="1997.5,2196.2 1972.3,2208.4 1972.3,2184.1" fill="#404040"/>
<polyline points="734.5,2410.0 765.0,2410.0" fill="none" stroke="#404040" stroke-width="6.2" stroke-linejoin="miter"/><polygon points="789.2,2410.0 764.0,2422.2 764.0,2397.8" fill="#404040"/>
<polyline points="990.0,2410.0 996.0,2410.0" fill="none" stroke="#404040" stroke-width="6.2" stroke-linejoin="miter"/><polygon points="1020.2,2410.0 995.0,2422.2 995.0,2397.8" fill="#404040"/>
<polyline points="993.5,2410.0 993.5,2323.2 996.0,2323.2" fill="none" stroke="#404040" stroke-width="6.2" stroke-linejoin="miter"/><polygon points="1020.2,2323.2 995.0,2335.4 995.0,2311.1" fill="#404040"/>
<polyline points="990.0,2487.5 996.0,2487.5" fill="none" stroke="#404040" stroke-width="6.2" stroke-linejoin="miter"/><polygon points="1020.2,2487.5 995.0,2499.7 995.0,2475.3" fill="#404040"/>
<polyline points="990.0,2639.5 996.0,2639.5" fill="none" stroke="#404040" stroke-width="6.2" stroke-linejoin="miter"/><polygon points="1020.2,2639.5 995.0,2651.7 995.0,2627.3" fill="#404040"/>
<polyline points="1222.0,2323.2 1255.0,2323.2" fill="none" stroke="#404040" stroke-width="6.2" stroke-linejoin="miter"/><polygon points="1279.2,2323.2 1254.0,2335.4 1254.0,2311.1" fill="#404040"/>
<polyline points="1222.0,2410.0 1485.0,2410.0" fill="none" stroke="#404040" stroke-width="6.2" stroke-linejoin="miter"/><polygon points="1509.2,2410.0 1484.0,2422.2 1484.0,2397.8" fill="#404040"/>
<polyline points="1249.0,2410.0 1249.0,2343.0 1255.0,2343.0" fill="none" stroke="#404040" stroke-width="6.2" stroke-linejoin="miter"/><polygon points="1279.2,2343.0 1254.0,2355.2 1254.0,2330.8" fill="#404040"/>
<polyline points="1222.0,2639.5 1255.0,2639.5" fill="none" stroke="#404040" stroke-width="6.2" stroke-linejoin="miter"/><polygon points="1279.2,2639.5 1254.0,2651.7 1254.0,2627.3" fill="#404040"/>
<polyline points="1249.0,2410.0 1249.0,2717.5 1255.0,2717.5" fill="none" stroke="#404040" stroke-width="6.2" stroke-linejoin="miter"/><polygon points="1279.2,2717.5 1254.0,2729.7 1254.0,2705.3" fill="#404040"/>
<polyline points="1481.0,2323.2 1485.0,2323.2" fill="none" stroke="#404040" stroke-width="6.2" stroke-linejoin="miter"/><polygon points="1509.2,2323.2 1484.0,2335.4 1484.0,2311.1" fill="#404040"/>
<polyline points="1481.0,2565.5 1485.0,2565.5" fill="none" stroke="#404040" stroke-width="6.2" stroke-linejoin="miter"/><polygon points="1509.2,2565.5 1484.0,2577.7 1484.0,2553.3" fill="#404040"/>
<polyline points="1481.0,2639.5 1485.0,2639.5" fill="none" stroke="#404040" stroke-width="6.2" stroke-linejoin="miter"/><polygon points="1509.2,2639.5 1484.0,2651.7 1484.0,2627.3" fill="#404040"/>
<polyline points="1711.0,2323.2 1736.0,2323.2 1736.0,2387.0 1742.3,2387.0" fill="none" stroke="#404040" stroke-width="6.2" stroke-linejoin="miter"/><polygon points="1766.5,2387.0 1741.3,2399.2 1741.3,2374.8" fill="#404040"/>
<polyline points="1711.0,2410.0 1742.3,2410.0" fill="none" stroke="#404040" stroke-width="6.2" stroke-linejoin="miter"/><polygon points="1766.5,2410.0 1741.3,2422.2 1741.3,2397.8" fill="#404040"/>
<polyline points="1481.0,2487.5 1973.3,2487.5" fill="none" stroke="#404040" stroke-width="6.2" stroke-linejoin="miter"/><polygon points="1997.5,2487.5 1972.3,2499.7 1972.3,2475.3" fill="#404040"/>
<polyline points="1736.0,2487.5 1736.0,2432.0 1742.3,2432.0" fill="none" stroke="#404040" stroke-width="6.2" stroke-linejoin="miter"/><polygon points="1766.5,2432.0 1741.3,2444.2 1741.3,2419.8" fill="#404040"/>
<polyline points="1711.0,2565.5 1973.0,2565.5 1973.0,2432.0 1973.3,2432.0" fill="none" stroke="#404040" stroke-width="6.2" stroke-linejoin="miter"/><polygon points="1997.5,2432.0 1972.3,2444.2 1972.3,2419.8" fill="#404040"/>
<polyline points="1968.2,2410.0 1973.3,2410.0" fill="none" stroke="#404040" stroke-width="6.2" stroke-linejoin="miter"/><polygon points="1997.5,2410.0 1972.3,2422.2 1972.3,2397.8" fill="#404040"/>
<polyline points="1711.0,2639.5 1742.3,2639.5" fill="none" stroke="#404040" stroke-width="6.2" stroke-linejoin="miter"/><polygon points="1766.5,2639.5 1741.3,2651.7 1741.3,2627.3" fill="#404040"/>
<polyline points="1968.2,2639.5 1973.3,2639.5" fill="none" stroke="#404040" stroke-width="6.2" stroke-linejoin="miter"/><polygon points="1997.5,2639.5 1972.3,2651.7 1972.3,2627.3" fill="#404040"/>
<polyline points="1711.0,2717.5 1742.3,2717.5" fill="none" stroke="#404040" stroke-width="6.2" stroke-linejoin="miter"/><polygon points="1766.5,2717.5 1741.3,2729.7 1741.3,2705.3" fill="#404040"/>
<polyline points="1968.2,2717.5 1973.3,2717.5" fill="none" stroke="#404040" stroke-width="6.2" stroke-linejoin="miter"/><polygon points="1997.5,2717.5 1972.3,2729.7 1972.3,2705.3" fill="#404040"/>
<rect x="531.55" y="385.45" width="199.60" height="56.60" rx="7.90" fill="none" stroke="#FFC000" stroke-width="8.0"/><text x="631.35" y="407.36" class="bt">프로그래밍</text><text x="631.35" y="434.86" class="bt">언어의기초</text>
<rect x="789.25" y="385.20" width="198.00" height="57.10" rx="8.15" fill="none" stroke="#C00000" stroke-width="7.5"/><text x="888.25" y="421.31" class="bt">데이터구조</text>
<rect x="1279.25" y="385.20" width="198.00" height="57.10" rx="8.15" fill="none" stroke="#C00000" stroke-width="7.5"/><text x="1378.25" y="421.31" class="bt">전자공학SW실험</text>
<rect x="1766.50" y="385.20" width="198.00" height="57.10" rx="8.15" fill="none" stroke="#404040" stroke-width="7.5"/><text x="1865.50" y="407.36" class="bt">전자공학</text><text x="1865.50" y="434.86" class="bt">캡스톤디자인</text>
<rect x="1997.50" y="385.20" width="198.00" height="57.10" rx="8.15" fill="none" stroke="#404040" stroke-width="7.5"/><text x="2096.50" y="407.36" class="bt">정보공학</text><text x="2096.50" y="434.86" class="bt">캡스톤디자인</text>
<rect x="789.25" y="461.95" width="198.00" height="57.10" rx="8.15" fill="none" stroke="#404040" stroke-width="7.5"/><text x="888.25" y="498.06" class="bt">자바프로그래밍</text>
<rect x="1279.25" y="461.95" width="198.00" height="57.10" rx="8.15" fill="none" stroke="#404040" stroke-width="7.5"/><text x="1378.25" y="484.11" class="bt">임베디드시스템</text><text x="1378.25" y="511.61" class="bt">프로그래밍</text>
<rect x="1509.25" y="461.95" width="198.00" height="57.10" rx="8.15" fill="none" stroke="#404040" stroke-width="7.5"/><text x="1608.25" y="484.32" class="bt" style="font-size:22.3px">시스템프로그래밍</text><text x="1608.25" y="510.32" class="bt" style="font-size:22.3px">및 실습</text>
<rect x="789.25" y="538.20" width="198.00" height="57.10" rx="8.15" fill="none" stroke="#404040" stroke-width="7.5"/><text x="888.25" y="560.73" class="bt" style="font-size:21.2px">객체지향프로그래</text><text x="888.25" y="585.73" class="bt" style="font-size:21.2px">밍 언어 및 실습</text>
<rect x="1020.25" y="538.20" width="198.00" height="57.10" rx="8.15" fill="none" stroke="#404040" stroke-width="7.5"/><text x="1119.25" y="574.31" class="bt">운영체제</text>
<rect x="1020.25" y="614.70" width="198.00" height="57.10" rx="8.15" fill="none" stroke="#C00000" stroke-width="7.5"/><text x="1119.25" y="650.81" class="bt">디지털시스템</text>
<rect x="1279.25" y="614.70" width="198.00" height="57.10" rx="8.15" fill="none" stroke="#404040" stroke-width="7.5"/><text x="1378.25" y="650.81" class="bt">컴퓨터아키텍쳐</text>
<rect x="1509.25" y="614.70" width="198.00" height="57.10" rx="8.15" fill="none" stroke="#404040" stroke-width="7.5"/><text x="1608.25" y="650.81" class="bt">디지털시스템설계</text>
<rect x="1020.25" y="692.95" width="198.00" height="57.10" rx="8.15" fill="none" stroke="#C00000" stroke-width="7.5"/><text x="1119.25" y="729.06" class="bt">물리전자공학1</text>
<rect x="1509.25" y="691.85" width="198.00" height="57.10" rx="8.15" fill="none" stroke="#404040" stroke-width="7.5"/><text x="1608.25" y="727.96" class="bt">디지털영상처리</text>
<rect x="1766.50" y="691.85" width="198.00" height="57.10" rx="8.15" fill="none" stroke="#404040" stroke-width="7.5"/><text x="1865.50" y="727.96" class="bt">영상시스템공학</text>
<rect x="1997.50" y="691.85" width="198.00" height="57.10" rx="8.15" fill="none" stroke="#404040" stroke-width="7.5"/><text x="2096.50" y="727.96" class="bt">전자공학창의실험</text>
<rect x="1020.25" y="767.20" width="198.00" height="57.10" rx="8.15" fill="none" stroke="#404040" stroke-width="7.5"/><text x="1119.25" y="803.31" class="bt">신호및시스템1</text>
<rect x="1279.25" y="767.20" width="198.00" height="57.10" rx="8.15" fill="none" stroke="#C00000" stroke-width="7.5"/><text x="1378.25" y="803.31" class="bt">신호및시스템2</text>
<rect x="1509.25" y="767.20" width="198.00" height="57.10" rx="8.15" fill="none" stroke="#404040" stroke-width="7.5"/><text x="1608.25" y="803.31" class="bt">디지털신호처리</text>
<rect x="1766.50" y="767.20" width="198.00" height="57.10" rx="8.15" fill="none" stroke="#404040" stroke-width="7.5"/><text x="1865.50" y="803.31" class="bt">멀티미디어시스템</text>
<rect x="789.25" y="841.70" width="198.00" height="57.10" rx="8.15" fill="none" stroke="#404040" stroke-width="7.5"/><text x="888.25" y="877.81" class="bt">전기회로1</text>
<rect x="1020.25" y="841.70" width="198.00" height="57.10" rx="8.15" fill="none" stroke="#C00000" stroke-width="7.5"/><text x="1119.25" y="877.81" class="bt">전기회로2</text>
<rect x="1279.25" y="841.70" width="198.00" height="57.10" rx="8.15" fill="none" stroke="#404040" stroke-width="7.5"/><text x="1378.25" y="877.81" class="bt">전자회로1</text>
<rect x="1509.25" y="841.70" width="198.00" height="57.10" rx="8.15" fill="none" stroke="#C00000" stroke-width="7.5"/><text x="1608.25" y="877.81" class="bt">전자회로2</text>
<rect x="532.75" y="919.45" width="198.00" height="57.10" rx="8.15" fill="none" stroke="#404040" stroke-width="7.5"/><text x="631.75" y="955.56" class="bt">계산수학</text>
<rect x="789.25" y="919.45" width="198.00" height="57.10" rx="8.15" fill="none" stroke="#404040" stroke-width="7.5"/><text x="888.25" y="955.56" class="bt">공업수학1</text>
<rect x="1020.25" y="919.45" width="198.00" height="57.10" rx="8.15" fill="none" stroke="#C00000" stroke-width="7.5"/><text x="1119.25" y="955.56" class="bt">공업수학2</text>
<rect x="1279.25" y="919.45" width="198.00" height="57.10" rx="8.15" fill="none" stroke="#404040" stroke-width="7.5"/><text x="1378.25" y="941.61" class="bt">패턴인식과</text><text x="1378.25" y="969.11" class="bt">기계학습</text>
<rect x="1509.25" y="919.45" width="198.00" height="57.10" rx="8.15" fill="none" stroke="#404040" stroke-width="7.5"/><text x="1608.25" y="955.56" class="bt">인공지능개론</text>
<rect x="1766.50" y="919.45" width="198.00" height="57.10" rx="8.15" fill="none" stroke="#404040" stroke-width="7.5"/><text x="1865.50" y="941.61" class="bt">인공신경망과</text><text x="1865.50" y="969.11" class="bt">딥러닝</text>
<rect x="1997.50" y="919.45" width="198.00" height="57.10" rx="8.15" fill="none" stroke="#404040" stroke-width="7.5"/><text x="2096.50" y="955.56" class="bt">강화학습</text>
<rect x="789.25" y="995.70" width="198.00" height="57.10" rx="8.15" fill="none" stroke="#404040" stroke-width="7.5"/><text x="888.25" y="1031.81" class="bt">이산수학</text>
<rect x="1279.25" y="995.70" width="198.00" height="57.10" rx="8.15" fill="none" stroke="#404040" stroke-width="7.5"/><text x="1378.25" y="1031.81" class="bt">확률과통계</text>
<rect x="1766.50" y="995.70" width="198.00" height="57.10" rx="8.15" fill="none" stroke="#404040" stroke-width="7.5"/><text x="1865.50" y="1031.81" class="bt">병렬계산</text>
<rect x="1997.50" y="995.70" width="198.00" height="57.10" rx="8.15" fill="none" stroke="#404040" stroke-width="7.5"/><text x="2096.50" y="1031.81" class="bt">정보이론</text>
<rect x="1279.25" y="1071.95" width="198.00" height="57.10" rx="8.15" fill="none" stroke="#404040" stroke-width="7.5"/><text x="1378.25" y="1108.06" class="bt">선형대수학</text>
<rect x="1279.25" y="1191.20" width="198.00" height="57.10" rx="8.15" fill="none" stroke="#404040" stroke-width="7.5"/><text x="1378.25" y="1227.31" class="bt">확률과통계</text>
<rect x="1509.25" y="1191.20" width="198.00" height="57.10" rx="8.15" fill="none" stroke="#404040" stroke-width="7.5"/><text x="1608.25" y="1227.31" class="bt">센서공학</text>
<rect x="1766.50" y="1191.20" width="198.00" height="57.10" rx="8.15" fill="none" stroke="#404040" stroke-width="7.5"/><text x="1865.50" y="1213.36" class="bt">나노/바이오</text><text x="1865.50" y="1240.86" class="bt">공학개론</text>
<rect x="789.25" y="1268.95" width="198.00" height="57.10" rx="8.15" fill="none" stroke="#C00000" stroke-width="7.5"/><text x="888.25" y="1305.06" class="bt">전자기학1</text>
<rect x="1020.25" y="1268.95" width="198.00" height="57.10" rx="8.15" fill="none" stroke="#404040" stroke-width="7.5"/><text x="1119.25" y="1305.06" class="bt">전자기학2</text>
<rect x="1509.25" y="1268.95" width="198.00" height="57.10" rx="8.15" fill="none" stroke="#404040" stroke-width="7.5"/><text x="1608.25" y="1305.06" class="bt">광공학</text>
<rect x="1766.50" y="1268.95" width="198.00" height="57.10" rx="8.15" fill="none" stroke="#404040" stroke-width="7.5"/><text x="1865.50" y="1305.06" class="bt">디스플레이광학</text>
<rect x="1997.50" y="1268.95" width="198.00" height="57.10" rx="8.15" fill="none" stroke="#404040" stroke-width="7.5"/><text x="2096.50" y="1291.11" class="bt">전자공학</text><text x="2096.50" y="1318.61" class="bt">캡스톤디자인</text>
<rect x="1020.25" y="1346.45" width="198.00" height="57.10" rx="8.15" fill="none" stroke="#C00000" stroke-width="7.5"/><text x="1119.25" y="1382.56" class="bt">물리전자공학1</text>
<rect x="1279.25" y="1346.45" width="198.00" height="57.10" rx="8.15" fill="none" stroke="#404040" stroke-width="7.5"/><text x="1378.25" y="1382.56" class="bt">물리전자공학2</text>
<rect x="1509.25" y="1346.45" width="198.00" height="57.10" rx="8.15" fill="none" stroke="#404040" stroke-width="7.5"/><text x="1608.25" y="1382.56" class="bt">반도체제작기술</text>
<rect x="1766.50" y="1346.45" width="198.00" height="57.10" rx="8.15" fill="none" stroke="#404040" stroke-width="7.5"/><text x="1865.50" y="1382.56" class="bt">나노전자공학</text>
<rect x="789.25" y="1422.20" width="198.00" height="57.10" rx="8.15" fill="none" stroke="#404040" stroke-width="7.5"/><text x="888.25" y="1458.31" class="bt">전기회로1</text>
<rect x="1020.25" y="1422.20" width="198.00" height="57.10" rx="8.15" fill="none" stroke="#C00000" stroke-width="7.5"/><text x="1119.25" y="1458.31" class="bt">전기회로2</text>
<rect x="1279.25" y="1422.20" width="198.00" height="57.10" rx="8.15" fill="none" stroke="#404040" stroke-width="7.5"/><text x="1378.25" y="1458.31" class="bt">전자회로1</text>
<rect x="1509.25" y="1422.20" width="198.00" height="57.10" rx="8.15" fill="none" stroke="#C00000" stroke-width="7.5"/><text x="1608.25" y="1458.31" class="bt">전자회로2</text>
<rect x="1766.50" y="1422.20" width="198.00" height="57.10" rx="8.15" fill="none" stroke="#404040" stroke-width="7.5"/><text x="1865.50" y="1458.31" class="bt">집적회로설계1</text>
<rect x="1997.50" y="1422.20" width="198.00" height="57.10" rx="8.15" fill="none" stroke="#404040" stroke-width="7.5"/><text x="2096.50" y="1458.31" class="bt">집적회로설계2</text>
<rect x="789.25" y="1498.20" width="198.00" height="57.10" rx="8.15" fill="none" stroke="#C00000" stroke-width="7.5"/><text x="888.25" y="1534.31" class="bt">데이터구조</text>
<rect x="1020.25" y="1498.20" width="198.00" height="57.10" rx="8.15" fill="none" stroke="#C00000" stroke-width="7.5"/><text x="1119.25" y="1534.31" class="bt">디지털시스템</text>
<rect x="1279.25" y="1498.20" width="198.00" height="57.10" rx="8.15" fill="none" stroke="#404040" stroke-width="7.5"/><text x="1378.25" y="1534.31" class="bt">컴퓨터아키텍쳐</text>
<rect x="1509.25" y="1498.20" width="198.00" height="57.10" rx="8.15" fill="none" stroke="#404040" stroke-width="7.5"/><text x="1608.25" y="1534.31" class="bt">디지털시스템설계</text>
<rect x="789.25" y="1575.20" width="198.00" height="57.10" rx="8.15" fill="none" stroke="#404040" stroke-width="7.5"/><text x="888.25" y="1611.31" class="bt">공업수학1</text>
<rect x="1020.25" y="1575.20" width="198.00" height="57.10" rx="8.15" fill="none" stroke="#404040" stroke-width="7.5"/><text x="1119.25" y="1611.31" class="bt">신호및시스템1</text>
<rect x="1279.25" y="1575.20" width="198.00" height="57.10" rx="8.15" fill="none" stroke="#C00000" stroke-width="7.5"/><text x="1378.25" y="1611.31" class="bt">신호및시스템2</text>
<rect x="1509.25" y="1575.20" width="198.00" height="57.10" rx="8.15" fill="none" stroke="#404040" stroke-width="7.5"/><text x="1608.25" y="1611.31" class="bt">디지털신호처리</text>
<rect x="789.25" y="1701.45" width="198.00" height="57.10" rx="8.15" fill="none" stroke="#404040" stroke-width="7.5"/><text x="888.25" y="1737.56" class="bt">전기회로1</text>
<rect x="1020.25" y="1701.45" width="198.00" height="57.10" rx="8.15" fill="none" stroke="#C00000" stroke-width="7.5"/><text x="1119.25" y="1737.56" class="bt">전기회로2</text>
<rect x="1279.25" y="1701.45" width="198.00" height="57.10" rx="8.15" fill="none" stroke="#404040" stroke-width="7.5"/><text x="1378.25" y="1737.56" class="bt">전자회로1</text>
<rect x="1509.25" y="1701.45" width="198.00" height="57.10" rx="8.15" fill="none" stroke="#C00000" stroke-width="7.5"/><text x="1608.25" y="1737.56" class="bt">전자회로2</text>
<rect x="1020.25" y="1778.20" width="198.00" height="57.10" rx="8.15" fill="none" stroke="#C00000" stroke-width="7.5"/><text x="1119.25" y="1814.31" class="bt">물리전자공학1</text>
<rect x="1509.25" y="1778.20" width="198.00" height="57.10" rx="8.15" fill="none" stroke="#404040" stroke-width="7.5"/><text x="1608.25" y="1814.31" class="bt">센서전자공학</text>
<rect x="1766.50" y="1778.20" width="198.00" height="57.10" rx="8.15" fill="none" stroke="#404040" stroke-width="7.5"/><text x="1865.50" y="1814.31" class="bt">전자의료기기공학</text>
<rect x="789.25" y="1854.20" width="198.00" height="57.10" rx="8.15" fill="none" stroke="#C00000" stroke-width="7.5"/><text x="888.25" y="1890.31" class="bt">전자기학1</text>
<rect x="1020.25" y="1854.20" width="198.00" height="57.10" rx="8.15" fill="none" stroke="#404040" stroke-width="7.5"/><text x="1119.25" y="1890.31" class="bt">전자기학2</text>
<rect x="1509.25" y="1854.20" width="198.00" height="57.10" rx="8.15" fill="none" stroke="#404040" stroke-width="7.5"/><text x="1608.25" y="1890.31" class="bt">전자계측공학</text>
<rect x="1766.50" y="1854.20" width="198.00" height="57.10" rx="8.15" fill="none" stroke="#404040" stroke-width="7.5"/><text x="1865.50" y="1876.36" class="bt">나노/바이오</text><text x="1865.50" y="1903.86" class="bt">공학개론</text>
<rect x="1997.50" y="1854.20" width="198.00" height="57.10" rx="8.15" fill="none" stroke="#404040" stroke-width="7.5"/><text x="2096.50" y="1876.36" class="bt">전자공학</text><text x="2096.50" y="1903.86" class="bt">캡스톤디자인</text>
<rect x="531.55" y="1930.95" width="199.60" height="56.60" rx="7.90" fill="none" stroke="#FFC000" stroke-width="8.0"/><text x="631.35" y="1952.86" class="bt">프로그래밍</text><text x="631.35" y="1980.36" class="bt">언어의기초</text>
<rect x="1279.25" y="1930.70" width="198.00" height="57.10" rx="8.15" fill="none" stroke="#404040" stroke-width="7.5"/><text x="1378.25" y="1966.81" class="bt">선형제어시스템</text>
<rect x="1766.50" y="1930.70" width="198.00" height="57.10" rx="8.15" fill="none" stroke="#404040" stroke-width="7.5"/><text x="1865.50" y="1966.81" class="bt">전산뇌과학</text>
<rect x="1997.50" y="1930.70" width="198.00" height="57.10" rx="8.15" fill="none" stroke="#404040" stroke-width="7.5"/><text x="2096.50" y="1966.81" class="bt">생체전자공학</text>
<rect x="1020.25" y="2007.70" width="198.00" height="57.10" rx="8.15" fill="none" stroke="#404040" stroke-width="7.5"/><text x="1119.25" y="2043.81" class="bt">신호및시스템1</text>
<rect x="1279.25" y="2007.70" width="198.00" height="57.10" rx="8.15" fill="none" stroke="#C00000" stroke-width="7.5"/><text x="1378.25" y="2043.81" class="bt">신호및시스템2</text>
<rect x="1509.25" y="2007.70" width="198.00" height="57.10" rx="8.15" fill="none" stroke="#404040" stroke-width="7.5"/><text x="1608.25" y="2043.81" class="bt">디지털신호처리</text>
<rect x="1997.50" y="2007.70" width="198.00" height="57.10" rx="8.15" fill="none" stroke="#404040" stroke-width="7.5"/><text x="2096.50" y="2029.86" class="bt">의용전자공학</text><text x="2096.50" y="2057.36" class="bt">개론</text>
<rect x="532.75" y="2082.70" width="198.00" height="57.10" rx="8.15" fill="none" stroke="#404040" stroke-width="7.5"/><text x="631.75" y="2118.81" class="bt">계산수학</text>
<rect x="789.25" y="2082.70" width="198.00" height="57.10" rx="8.15" fill="none" stroke="#404040" stroke-width="7.5"/><text x="888.25" y="2118.81" class="bt">공업수학1</text>
<rect x="1020.25" y="2082.70" width="198.00" height="57.10" rx="8.15" fill="none" stroke="#404040" stroke-width="7.5"/><text x="1119.25" y="2118.81" class="bt">공업수학2</text>
<rect x="1279.25" y="2082.70" width="198.00" height="57.10" rx="8.15" fill="none" stroke="#404040" stroke-width="7.5"/><text x="1378.25" y="2104.86" class="bt">패턴인식과</text><text x="1378.25" y="2132.36" class="bt">기계학습</text>
<rect x="1509.25" y="2082.70" width="198.00" height="57.10" rx="8.15" fill="none" stroke="#404040" stroke-width="7.5"/><text x="1608.25" y="2118.81" class="bt">인공지능개론</text>
<rect x="1766.50" y="2082.70" width="198.00" height="57.10" rx="8.15" fill="none" stroke="#404040" stroke-width="7.5"/><text x="1865.50" y="2104.86" class="bt">인공신경망과</text><text x="1865.50" y="2132.36" class="bt">딥러닝</text>
<rect x="1997.50" y="2082.70" width="198.00" height="57.10" rx="8.15" fill="none" stroke="#404040" stroke-width="7.5"/><text x="2096.50" y="2118.81" class="bt">강화학습</text>
<rect x="789.25" y="2167.70" width="198.00" height="57.10" rx="8.15" fill="none" stroke="#C00000" stroke-width="7.5"/><text x="888.25" y="2203.81" class="bt">데이터구조</text>
<rect x="1020.25" y="2167.70" width="198.00" height="57.10" rx="8.15" fill="none" stroke="#C00000" stroke-width="7.5"/><text x="1119.25" y="2203.81" class="bt">디지털시스템</text>
<rect x="1509.25" y="2167.70" width="198.00" height="57.10" rx="8.15" fill="none" stroke="#404040" stroke-width="7.5"/><text x="1608.25" y="2203.81" class="bt">디지털영상처리</text>
<rect x="1766.50" y="2167.70" width="198.00" height="57.10" rx="8.15" fill="none" stroke="#404040" stroke-width="7.5"/><text x="1865.50" y="2203.81" class="bt">영상시스템공학</text>
<rect x="1997.50" y="2167.70" width="198.00" height="57.10" rx="8.15" fill="none" stroke="#404040" stroke-width="7.5"/><text x="2096.50" y="2203.81" class="bt">전자공학창의실험</text>
<rect x="789.25" y="2294.70" width="198.00" height="57.10" rx="8.15" fill="none" stroke="#C00000" stroke-width="7.5"/><text x="888.25" y="2330.81" class="bt">데이터구조</text>
<rect x="1020.25" y="2294.70" width="198.00" height="57.10" rx="8.15" fill="none" stroke="#404040" stroke-width="7.5"/><text x="1119.25" y="2330.81" class="bt">신호및시스템1</text>
<rect x="1279.25" y="2294.70" width="198.00" height="57.10" rx="8.15" fill="none" stroke="#C00000" stroke-width="7.5"/><text x="1378.25" y="2330.81" class="bt">신호및시스템2</text>
<rect x="1509.25" y="2294.70" width="198.00" height="57.10" rx="8.15" fill="none" stroke="#404040" stroke-width="7.5"/><text x="1608.25" y="2330.81" class="bt">디지털신호처리</text>
<rect x="532.75" y="2381.45" width="198.00" height="57.10" rx="8.15" fill="none" stroke="#404040" stroke-width="7.5"/><text x="631.75" y="2417.56" class="bt">계산수학</text>
<rect x="789.25" y="2381.45" width="198.00" height="57.10" rx="8.15" fill="none" stroke="#404040" stroke-width="7.5"/><text x="888.25" y="2417.56" class="bt">공업수학1</text>
<rect x="1020.25" y="2381.45" width="198.00" height="57.10" rx="8.15" fill="none" stroke="#404040" stroke-width="7.5"/><text x="1119.25" y="2417.56" class="bt">공업수학2</text>
<rect x="1509.25" y="2381.45" width="198.00" height="57.10" rx="8.15" fill="none" stroke="#404040" stroke-width="7.5"/><text x="1608.25" y="2417.56" class="bt">통신이론</text>
<rect x="1766.50" y="2381.45" width="198.00" height="57.10" rx="8.15" fill="none" stroke="#404040" stroke-width="7.5"/><text x="1865.50" y="2417.56" class="bt">디지털통신</text>
<rect x="1997.50" y="2381.45" width="198.00" height="57.10" rx="8.15" fill="none" stroke="#404040" stroke-width="7.5"/><text x="2096.50" y="2417.56" class="bt">무선통신</text>
<rect x="789.25" y="2458.95" width="198.00" height="57.10" rx="8.15" fill="none" stroke="#C00000" stroke-width="7.5"/><text x="888.25" y="2495.06" class="bt">전자기학1</text>
<rect x="1020.25" y="2458.95" width="198.00" height="57.10" rx="8.15" fill="none" stroke="#404040" stroke-width="7.5"/><text x="1119.25" y="2495.06" class="bt">전자기학2</text>
<rect x="1279.25" y="2458.95" width="198.00" height="57.10" rx="8.15" fill="none" stroke="#404040" stroke-width="7.5"/><text x="1378.25" y="2495.06" class="bt">확률과통계</text>
<rect x="1997.50" y="2458.95" width="198.00" height="57.10" rx="8.15" fill="none" stroke="#404040" stroke-width="7.5"/><text x="2096.50" y="2495.06" class="bt">정보이론</text>
<rect x="1022.25" y="2535.20" width="198.00" height="57.10" rx="8.15" fill="none" stroke="#C00000" stroke-width="7.5"/><text x="1121.25" y="2571.31" class="bt">물리전자공학1</text>
<rect x="1279.25" y="2536.95" width="198.00" height="57.10" rx="8.15" fill="none" stroke="#404040" stroke-width="7.5"/><text x="1378.25" y="2573.06" class="bt">컴퓨터통신개론</text>
<rect x="1509.25" y="2536.95" width="198.00" height="57.10" rx="8.15" fill="none" stroke="#404040" stroke-width="7.5"/><text x="1608.25" y="2573.06" class="bt">데이터통신</text>
<rect x="1997.50" y="2536.95" width="198.00" height="57.10" rx="8.15" fill="none" stroke="#404040" stroke-width="7.5"/><text x="2096.50" y="2559.11" class="bt">전자공학</text><text x="2096.50" y="2586.61" class="bt">캡스톤디자인</text>
<rect x="789.25" y="2610.95" width="198.00" height="57.10" rx="8.15" fill="none" stroke="#404040" stroke-width="7.5"/><text x="888.25" y="2647.06" class="bt">전기회로1</text>
<rect x="1020.25" y="2610.95" width="198.00" height="57.10" rx="8.15" fill="none" stroke="#C00000" stroke-width="7.5"/><text x="1119.25" y="2647.06" class="bt">전기회로2</text>
<rect x="1279.25" y="2610.95" width="198.00" height="57.10" rx="8.15" fill="none" stroke="#404040" stroke-width="7.5"/><text x="1378.25" y="2647.06" class="bt">전자회로1</text>
<rect x="1509.25" y="2610.95" width="198.00" height="57.10" rx="8.15" fill="none" stroke="#C00000" stroke-width="7.5"/><text x="1608.25" y="2647.06" class="bt">전자회로2</text>
<rect x="1766.50" y="2610.95" width="198.00" height="57.10" rx="8.15" fill="none" stroke="#404040" stroke-width="7.5"/><text x="1865.50" y="2647.06" class="bt">집적회로설계1</text>
<rect x="1997.50" y="2610.95" width="198.00" height="57.10" rx="8.15" fill="none" stroke="#404040" stroke-width="7.5"/><text x="2096.50" y="2647.06" class="bt">집적회로설계2</text>
<rect x="1022.75" y="2688.95" width="198.00" height="57.10" rx="8.15" fill="none" stroke="#C00000" stroke-width="7.5"/><text x="1121.75" y="2725.06" class="bt">디지털시스템</text>
<rect x="1279.25" y="2688.95" width="198.00" height="57.10" rx="8.15" fill="none" stroke="#404040" stroke-width="7.5"/><text x="1378.25" y="2725.06" class="bt">선형제어시스템</text>
<rect x="1509.25" y="2688.95" width="198.00" height="57.10" rx="8.15" fill="none" stroke="#404040" stroke-width="7.5"/><text x="1608.25" y="2725.06" class="bt">인공지능개론</text>
<rect x="1766.50" y="2688.95" width="198.00" height="57.10" rx="8.15" fill="none" stroke="#404040" stroke-width="7.5"/><text x="1865.50" y="2711.11" class="bt">인공신경망과</text><text x="1865.50" y="2738.61" class="bt">딥러닝</text>
<rect x="1997.50" y="2688.95" width="198.00" height="57.10" rx="8.15" fill="none" stroke="#404040" stroke-width="7.5"/><text x="2096.50" y="2725.06" class="bt">강화학습</text>
<rect x="1509.25" y="2766.45" width="198.00" height="57.10" rx="8.15" fill="none" stroke="#404040" stroke-width="7.5"/><text x="1608.25" y="2788.82" class="bt" style="font-size:22.3px">시스템프로그래밍</text><text x="1608.25" y="2814.82" class="bt" style="font-size:22.3px">및 실습</text>
<path d="M1501.7,1256 H1973.8 V1474.6 A12,12 0 0 1 1961.8,1486.6 H1501.7 V1256 Z" fill="#7030A0" fill-opacity="0.2"/>
<path d="M1977.5,2154.4 H2209.5 A12,12 0 0 1 2221.5,2166.4 V2228 A12,12 0 0 1 2209.5,2240 H1977.5 V2154.4 Z" fill="#7030A0" fill-opacity="0.2"/>
<text x="851" y="366.3" fill="#0070C0" stroke="#0070C0" stroke-width="0.5" font-size="27" font-weight="bold" textLength="254.7" lengthAdjust="spacing">기초 프로그래밍 강좌</text>
<text x="1731" y="655.0" fill="#70AD47" stroke="#70AD47" stroke-width="0.5" font-size="27" font-weight="bold" textLength="224.0" lengthAdjust="spacing">HW oriented 강좌</text>
<text x="1997.5" y="804.5" fill="#ED7D31" stroke="#ED7D31" stroke-width="0.5" font-size="27" font-weight="bold" textLength="192.5" lengthAdjust="spacing">디지털영상 강좌</text>
<text x="2014" y="891.0" fill="#7030A0" stroke="#7030A0" stroke-width="0.5" font-size="27" font-weight="bold" textLength="167.5" lengthAdjust="spacing">인공지능 강좌</text>
<text x="1987.5" y="1217.5" fill="#7030A0" stroke="#7030A0" stroke-width="0.5" font-size="27" font-weight="bold" textLength="177.5" lengthAdjust="spacing">소자/공정 강좌</text>
<text x="1999" y="1526.0" fill="#0070C0" stroke="#0070C0" stroke-width="0.5" font-size="27" font-weight="bold" textLength="205.0" lengthAdjust="spacing">시스템/설계 강좌</text>
<text x="1749" y="1738.5" fill="#70AD47" stroke="#70AD47" stroke-width="0.5" font-size="27" font-weight="bold" textLength="167.5" lengthAdjust="spacing">의료기기 강좌</text>
<text x="1977.5" y="1834.5" fill="#0070C0" stroke="#0070C0" stroke-width="0.5" font-size="27" font-weight="bold" textLength="254.0" lengthAdjust="spacing">바이오 헬스케어 강좌</text>
<text x="1298.5" y="2182.5" fill="#7030A0" stroke="#7030A0" stroke-width="0.5" font-size="27" font-weight="bold" textLength="176.5" lengthAdjust="spacing">의료 영상 강좌</text>
<text x="1736.5" y="2295.0" fill="#0070C0" stroke="#0070C0" stroke-width="0.5" font-size="27" font-weight="bold" textLength="240.0" lengthAdjust="spacing">신호 해석/처리 강좌</text>
<text x="1973" y="2346.0" fill="#70AD47" stroke="#70AD47" stroke-width="0.5" font-size="27" font-weight="bold" textLength="218.5" lengthAdjust="spacing">통신네트워크 강좌</text>
<text x="794" y="2717.5" fill="#ED7D31" stroke="#ED7D31" stroke-width="0.5" font-size="27" font-weight="bold" textLength="177.0" lengthAdjust="spacing">회로 설계 강좌</text>
<text x="2033" y="2783.7" fill="#7030A0" stroke="#7030A0" stroke-width="0.5" font-size="24.5" font-weight="bold" textLength="150.0" lengthAdjust="spacing">인공지능 강좌</text>
<text x="515" y="1523.0" font-size="53" font-weight="bold" fill="#000" stroke="#000" stroke-width="0.8" stroke-linejoin="round" text-anchor="middle">교양필수</text>
<text x="515" y="1618.0" font-size="53" font-weight="bold" fill="#000" stroke="#000" stroke-width="0.8" stroke-linejoin="round" text-anchor="middle">및</text>
<text x="515" y="1713.0" font-size="53" font-weight="bold" fill="#000" stroke="#000" stroke-width="0.8" stroke-linejoin="round" text-anchor="middle">학문의기초</text>
<rect x="1762.5" y="2874.5" width="93" height="33" rx="7" fill="#fff" stroke="#C00000" stroke-width="7"/>
<text x="1874" y="2900.3" font-size="21.5" font-weight="bold" fill="#000" stroke="#000" stroke-width="0.5">: 전공필수</text>
<rect x="2014" y="2874.5" width="93" height="33" rx="7" fill="#fff" stroke="#404040" stroke-width="7"/>
<text x="2125" y="2900.3" font-size="21.5" font-weight="bold" fill="#000" stroke="#000" stroke-width="0.5">: 전공선택</text>
</svg>
</body></html>
